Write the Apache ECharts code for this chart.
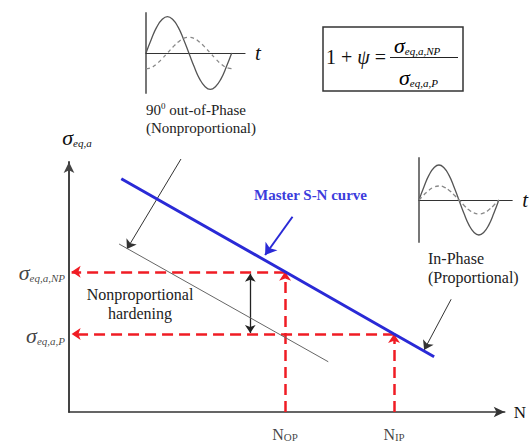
<!DOCTYPE html>
<html>
<head>
<meta charset="utf-8">
<script src="https://cdn.jsdelivr.net/npm/echarts@6/dist/echarts.min.js"></script>
<style>
  html, body { margin: 0; padding: 0; background: #fff; }
  #chart { width: 529px; height: 443px; }
</style>
</head>
<body>
<div id="chart"></div>
<script>
// Schematic S-N diagram: equivalent stress amplitude vs. life (arbitrary units)
const masterCurve = [[12.0, 93.3], [49.6, 56.1], [74.6, 31.2], [83.8, 22.1]];
const nonpropCurve = [[11.5, 67.2], [59.5, 20.1]];
const sigmaNP = 56.1;
const sigmaP = 31.2;
const nOP = 49.6;
const nIP = 74.6;
const hardeningX = 41.6;

// callout arrows: [tail, head]
const pointerOutOfPhase = [[25.7, 101.2], [13.3, 65.2]];
const pointerInPhase = [[87.7, 45.1], [81.5, 24.8]];
const pointerMaster = [[51.3, 78.1], [45.0, 62.8]];

// loading history sketches: one cycle sampled every 1/16 period
const phase = [0, 0.0625, 0.125, 0.1875, 0.25, 0.3125, 0.375, 0.4375, 0.5,
               0.5625, 0.625, 0.6875, 0.75, 0.8125, 0.875, 0.9375, 1];
const primaryLoad = [0, 0.38, 0.71, 0.92, 1, 0.92, 0.71, 0.38, 0,
                     -0.38, -0.71, -0.92, -1, -0.92, -0.71, -0.38, 0];
const outOfPhaseLoad = [-0.43, -0.40, -0.30, -0.16, 0, 0.16, 0.30, 0.40, 0.43,
                        0.40, 0.30, 0.16, 0, -0.16, -0.30, -0.40, -0.43];
const inPhaseLoad = [0, 0.15, 0.28, 0.37, 0.40, 0.37, 0.28, 0.15, 0,
                     -0.15, -0.28, -0.37, -0.40, -0.37, -0.28, -0.15, 0];

const SERIF = "'Liberation Serif', 'Times New Roman', serif";
const RED = '#f01c24';
const BLUE = '#2a2ad6';

const zip = (xs, ys) => xs.map((x, i) => [x, ys[i]]);

const sigmaRich = {
  s: { fontFamily: SERIF, fontStyle: 'italic', fontSize: 22, color: '#111', verticalAlign: 'bottom', lineHeight: 24 },
  b: { fontFamily: SERIF, fontStyle: 'italic', fontSize: 11, color: '#111', verticalAlign: 'bottom', lineHeight: 18 }
};
const nRich = {
  n: { fontFamily: SERIF, fontSize: 16, color: '#111', verticalAlign: 'bottom', lineHeight: 17 },
  b: { fontFamily: SERIF, fontSize: 11, color: '#111', verticalAlign: 'bottom', lineHeight: 13 }
};

const chart = echarts.init(document.getElementById('chart'), null, { renderer: 'svg' });

const insetX = (idx, max) => ({
  gridIndex: idx, type: 'value', min: 0, max: max,
  axisLine: { lineStyle: { color: '#333', width: 1.2 } },
  axisTick: { show: false }, axisLabel: { show: false }, splitLine: { show: false },
  name: 't', nameLocation: 'end', nameGap: 10,
  nameTextStyle: { fontFamily: SERIF, fontStyle: 'italic', fontSize: 21, color: '#111' }
});
const insetY = (idx, lim) => ({
  gridIndex: idx, type: 'value', min: -lim, max: lim,
  axisLine: { onZero: false, lineStyle: { color: '#777', width: 2 } },
  axisTick: { show: false }, axisLabel: { show: false }, splitLine: { show: false }
});

const arrowLines = (name, pairs, color, width, size, symbols, dash) => ({
  type: 'lines', name: name, coordinateSystem: 'cartesian2d',
  xAxisIndex: 0, yAxisIndex: 0, clip: false, silent: true,
  symbol: symbols, symbolSize: size,
  lineStyle: { color: color, width: width, type: dash || 'solid', opacity: 1 },
  data: pairs.map(p => ({ coords: p }))
});

chart.setOption({
  animation: false,
  backgroundColor: '#fff',
  grid: [
    { left: 69, top: 162, width: 439, height: 250 },
    { left: 146, top: 13, width: 99, height: 80 },
    { left: 419, top: 158, width: 98, height: 84 }
  ],
  xAxis: [
    {
      gridIndex: 0, type: 'value', min: 0, max: 100,
      axisLine: { symbol: ['none', 'arrow'], symbolSize: [8, 11], lineStyle: { color: '#333', width: 1.6 } },
      axisTick: { show: false }, axisLabel: { show: false }, splitLine: { show: false },
      name: 'N', nameLocation: 'end', nameGap: 9,
      nameTextStyle: { fontFamily: SERIF, fontSize: 17, color: '#111' }
    },
    insetX(1, 1.155),
    insetX(2, 1.167)
  ],
  yAxis: [
    {
      gridIndex: 0, type: 'value', min: 0, max: 100,
      axisLine: { symbol: ['none', 'arrow'], symbolSize: [8, 11], lineStyle: { color: '#444', width: 2 } },
      axisTick: { show: false }, axisLabel: { show: false }, splitLine: { show: false },
      name: '{s|σ}{b|eq,a}', nameLocation: 'end', nameGap: 14,
      nameTextStyle: { rich: sigmaRich, padding: [0, 0, 0, 16] }
    },
    insetY(1, 1.1),
    insetY(2, 1.2)
  ],
  series: [
    {
      type: 'line', name: 'Master S-N curve', xAxisIndex: 0, yAxisIndex: 0,
      data: masterCurve, symbol: 'none', silent: true,
      lineStyle: { color: BLUE, width: 3 }, z: 5
    },
    {
      type: 'line', name: 'Out-of-phase curve', xAxisIndex: 0, yAxisIndex: 0,
      data: nonpropCurve, symbol: 'none', silent: true,
      lineStyle: { color: '#666', width: 1 }, z: 3
    },
    arrowLines('Stress levels', [
      [[nOP, sigmaNP], [0.6, sigmaNP]],
      [[nIP, sigmaP], [0.6, sigmaP]]
    ], RED, 2.5, [0, 9], ['none', 'arrow'], [11, 6]),
    arrowLines('Lives', [
      [[nOP, 0], [nOP, sigmaNP]],
      [[nIP, 0], [nIP, sigmaP]]
    ], RED, 2.5, [0, 9], ['none', 'arrow'], [11, 6]),
    arrowLines('Hardening', [
      [[hardeningX, sigmaNP - 0.8], [hardeningX, sigmaP + 0.4]]
    ], '#222', 1.3, 8, ['arrow', 'arrow']),
    arrowLines('Callouts', [pointerOutOfPhase, pointerInPhase], '#333', 1, 9, ['none', 'arrow']),
    arrowLines('Master callout', [pointerMaster], BLUE, 2, 11, ['none', 'arrow']),
    {
      type: 'scatter', name: 'Stress labels', xAxisIndex: 0, yAxisIndex: 0,
      symbolSize: 0, silent: true,
      data: [
        { value: [0, sigmaNP], label: { formatter: '{s|σ}{b|eq,a,NP}' } },
        { value: [0, sigmaP], label: { formatter: '{s|σ}{b|eq,a,P}' } }
      ],
      label: { show: true, position: 'left', distance: 4, rich: sigmaRich }
    },
    {
      type: 'scatter', name: 'Life labels', xAxisIndex: 0, yAxisIndex: 0,
      symbolSize: 0, silent: true,
      data: [
        { value: [nOP, 0], label: { formatter: '{n|N}{b|OP}' } },
        { value: [nIP, 0], label: { formatter: '{n|N}{b|IP}' } }
      ],
      label: { show: true, position: 'bottom', distance: 13, rich: nRich }
    },
    {
      type: 'line', xAxisIndex: 1, yAxisIndex: 1, data: zip(phase, primaryLoad),
      smooth: true, symbol: 'none', silent: true, lineStyle: { color: '#555', width: 1.3 }
    },
    {
      type: 'line', xAxisIndex: 1, yAxisIndex: 1, data: zip(phase, outOfPhaseLoad),
      smooth: true, symbol: 'none', silent: true, lineStyle: { color: '#888', width: 1.3, type: [4, 3] }
    },
    {
      type: 'line', xAxisIndex: 2, yAxisIndex: 2, data: zip(phase, primaryLoad),
      smooth: true, symbol: 'none', silent: true, lineStyle: { color: '#555', width: 1.3 }
    },
    {
      type: 'line', xAxisIndex: 2, yAxisIndex: 2, data: zip(phase, inPhaseLoad),
      smooth: true, symbol: 'none', silent: true, lineStyle: { color: '#888', width: 1.3, type: [4, 3] }
    }
  ],
  graphic: [
    {
      type: 'text', left: 254, top: 187, silent: true,
      style: { text: 'Master S-N curve', font: 'bold 15px ' + SERIF, fill: '#3c3cdc' }
    },
    {
      type: 'text', x: 140, y: 303.5, silent: true,
      style: {
        text: 'Nonproportional\nhardening', font: '16px ' + SERIF, fill: '#222',
        align: 'center', verticalAlign: 'middle', lineHeight: 19
      }
    },
    {
      type: 'text', x: 146, y: 119, silent: true,
      style: {
        text: '90{p|0} out-of-Phase\n(Nonproportional)', font: '15px ' + SERIF, fill: '#222',
        verticalAlign: 'middle', lineHeight: 18,
        rich: { p: { fontFamily: SERIF, fontSize: 9, fill: '#222', verticalAlign: 'top', lineHeight: 18 } }
      }
    },
    {
      type: 'text', x: 428, y: 267.5, silent: true,
      style: {
        text: 'In-Phase\n(Proportional)', font: '16px ' + SERIF, fill: '#222',
        verticalAlign: 'middle', lineHeight: 19
      }
    },
    {
      type: 'group', silent: true,
      children: [
        { type: 'rect', shape: { x: 323, y: 27, width: 140, height: 64 },
          style: { fill: '#fff', stroke: '#333', lineWidth: 1.5 } },
        { type: 'text', x: 326, y: 57,
          style: {
            text: '1 + {i|ψ} =', font: '20px ' + SERIF, fill: '#111', verticalAlign: 'middle',
            rich: { i: { fontFamily: SERIF, fontStyle: 'italic', fontSize: 20, fill: '#111' } }
          } },
        { type: 'line', shape: { x1: 390, y1: 57.5, x2: 458, y2: 57.5 },
          style: { stroke: '#222', lineWidth: 1.2 } },
        { type: 'text', x: 394, y: 56,
          style: { text: '{s|σ}{b|eq,a,NP}', verticalAlign: 'bottom', rich: sigmaRich } },
        { type: 'text', x: 399, y: 88,
          style: { text: '{s|σ}{b|eq,a,P}', verticalAlign: 'bottom', rich: sigmaRich } }
      ]
    }
  ]
});
</script>
</body>
</html>
